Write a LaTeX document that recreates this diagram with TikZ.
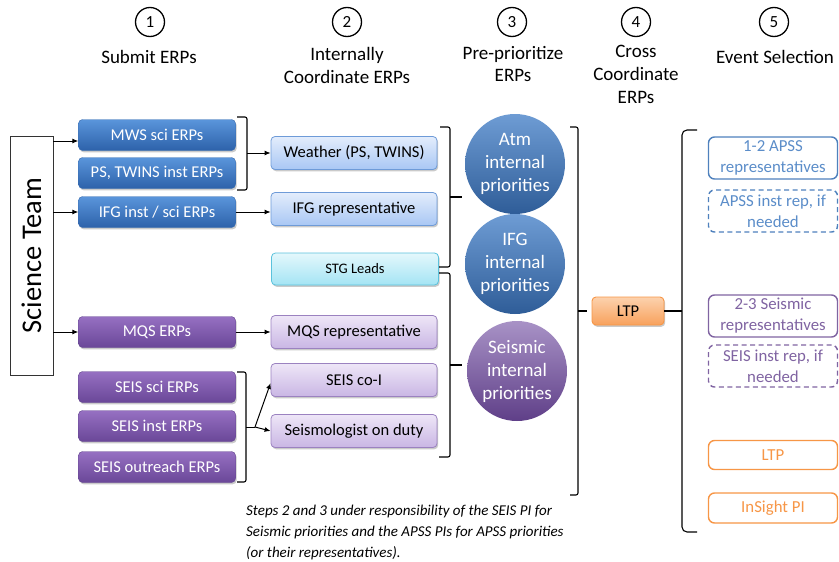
\documentclass[tikz,border=0pt]{standalone}
\usepackage{fontspec}
\setmainfont{Carlito}
\usepackage{graphicx}
\usetikzlibrary{shadows,arrows.meta}
\newcommand{\fsz}[2]{\fontsize{#1pt}{#2pt}\selectfont}
\definecolor{bluetop}{HTML}{5A95DB}
\definecolor{bluebot}{HTML}{2D62AA}
\definecolor{blueedge}{HTML}{3A6DB0}
\definecolor{purtop}{HTML}{9670C2}
\definecolor{purbot}{HTML}{6A4798}
\definecolor{puredge}{HTML}{64468F}
\definecolor{lbtop}{HTML}{E3EDFC}
\definecolor{lbbot}{HTML}{A9C7F4}
\definecolor{lbedge}{HTML}{6E9BD8}
\definecolor{lptop}{HTML}{EEE6F7}
\definecolor{lpbot}{HTML}{C9B6E4}
\definecolor{lpedge}{HTML}{9B82C0}
\definecolor{cytop}{HTML}{E4F8FC}
\definecolor{cybot}{HTML}{A4E4F4}
\definecolor{cyedge}{HTML}{5BC2DC}
\definecolor{ortop}{HTML}{FCD2AE}
\definecolor{orbot}{HTML}{F8A15C}
\definecolor{oredge}{HTML}{F79646}
\definecolor{apssblue}{HTML}{4F81BD}
\definecolor{apsstext}{HTML}{5B8DC9}
\definecolor{seispur}{HTML}{8064A2}
\definecolor{cbtop}{HTML}{6E9CD4}
\definecolor{cbbot}{HTML}{2F5D98}
\definecolor{cptop}{HTML}{A892C6}
\definecolor{cpbot}{HTML}{5F3F88}
\begin{document}
\begin{tikzpicture}[x=1pt,y=-1pt,
  every node/.style={inner sep=0pt},
  shad/.style={drop shadow={shadow xshift=1.2pt, shadow yshift=-1.8pt, opacity=0.35, fill=black!60}},
  darkb/.style={shad, rounded corners=4pt, minimum width=157pt, minimum height=31pt, text=white, font=\fsz{16.5}{20}},
  bluebox/.style={darkb, draw=blueedge, top color=bluetop, bottom color=bluebot},
  purbox/.style={darkb, draw=puredge, top color=purtop, bottom color=purbot},
  lightb/.style={shad, rounded corners=4pt, minimum width=166pt, minimum height=33pt, text=black, font=\fsz{16.5}{20}, line width=0.8pt},
  lbbox/.style={lightb, draw=lbedge, top color=lbtop, bottom color=lbbot},
  lpbox/.style={lightb, draw=lpedge, top color=lptop, bottom color=lpbot},
  cybox/.style={lightb, draw=cyedge, top color=cytop, bottom color=cybot, minimum width=167pt, minimum height=32pt, font=\fsz{14.5}{17}},
  prio/.style={circle, minimum size=100pt, text=white, font=\fsz{19}{23}, align=center},
  outb/.style={rounded corners=6pt, line width=1.4pt, fill=white, minimum width=129pt, minimum height=42pt, align=center, font=\fsz{16.8}{21}},
  dsh/.style={dash pattern=on 5pt off 3.5pt},
  num/.style={circle, draw, line width=1.3pt, minimum size=29pt, font=\fsz{17}{20}},
  ttl/.style={font=\fsz{19}{23}, align=center},
  arr/.style={-{Latex[length=6pt,width=5pt]}, line width=1pt},
  brk/.style={line width=1.1pt, rounded corners=2pt}
]
\useasboundingbox (0,0) rectangle (839,562);

% step headers
\node[num] (c1) at (150,22) {1};
\node[num] (c2) at (347,22) {2};
\node[num] (c3) at (512,22) {3};
\node[num] (c4) at (636,22) {4};
\node[num] (c5) at (774,22) {5};
\node[ttl] (t1) at (149,57) {Submit ERPs};
\node[ttl] (t2) at (347,65) {Internally\\Coordinate ERPs};
\node[ttl] (t3) at (513,64) {Pre-prioritize\\ERPs};
\node[ttl] (t4) at (636,74) {Cross\\Coordinate\\ERPs};
\node[ttl] (t5) at (775,57) {Event Selection};

% science team
\node[draw=black!80, line width=0.9pt, minimum width=43pt, minimum height=239pt] (st) at (31.5,255.5) {\rotatebox{90}{\fsz{28.5}{30}Science Team}};

% column 1
\node[bluebox] (mws) at (157,135) {MWS sci ERPs};
\node[bluebox] (ps) at (157,173) {PS, TWINS inst ERPs};
\node[bluebox] (ifg) at (157,212) {IFG inst / sci ERPs};
\node[purbox] (mqs) at (157,332) {MQS ERPs};
\node[purbox] (seissci) at (157,387) {SEIS sci ERPs};
\node[purbox] (seisinst) at (157,426) {SEIS inst ERPs};
\node[purbox] (seisout) at (157,467) {SEIS outreach ERPs};

\draw[arr] (st.east |- mws.west) ++(0,6) -- ([yshift=-6pt]mws.west);
\draw[arr] (st.east |- ifg.west) -- (ifg.west);
\draw[arr] (st.east |- mqs.west) -- (mqs.west);

% column 2
\node[lbbox] (weather) at (354,153) {Weather (PS, TWINS)};
\node[lbbox] (ifgrep) at (354,209) {IFG representative};
\node[cybox] (stg) at (355,269) {STG Leads};
\node[lpbox] (mqsrep) at (354,332) {MQS representative};
\node[lpbox] (coi) at (354,380) {SEIS co-I};
\node[lpbox] (duty) at (354,431) {Seismologist on duty};

\draw[brk] (237,117) -- (247,117) -- (247,190) -- (237,190);
\coordinate (b1) at (247,153);
\draw[arr] (b1) -- (weather.west);
\draw[arr] (ifg.east) -- (ifgrep.west |- ifg.east);
\draw[arr] (mqs.east) -- (mqsrep.west);

\draw[brk] (237,372) -- (246,372) -- (246,482) -- (237,482);
\coordinate (b2a) at (246,427);
\coordinate (b2) at (255,427);
\draw[line width=1pt] (b2a) -- (b2);
\draw[arr] (b2) -- ([yshift=-3pt]coi.west);
\draw[arr] (b2) -- (duty.west);

% column 3
\draw[brk] (440,127) -- (450,127) -- (450,267) -- (439,267);
\draw[line width=1.1pt] (450,197) -- (462,197);
\draw[brk] (439,273) -- (450,273) -- (450,457) -- (439,457);
\draw[line width=1.1pt] (450,365) -- (462,365);

\node[prio, top color=cbtop, bottom color=cbbot] (atm) at (515,164) {Atm\\internal\\priorities};
\node[prio, top color=cbtop, bottom color=cbbot] (ifgp) at (515,264) {IFG\\internal\\priorities};
\node[prio, top color=cptop, bottom color=cpbot] (seisp) at (517,371) {Seismic\\internal\\priorities};

% column 4
\draw[brk] (570,127) -- (578,127) -- (578,495) -- (570,495);
\draw[line width=1.1pt] (578,311) -- (587,311);
\node[shad, rounded corners=4pt, draw=oredge, line width=0.9pt, top color=ortop, bottom color=orbot, minimum width=72pt, minimum height=28pt, font=\fsz{16.5}{20}] (ltp) at (628,311) {LTP};

% column 5
\draw[line width=1.1pt, rounded corners=5pt] (697,130) -- (682,130) -- (682,532) -- (697,532);
\coordinate (d) at (682,311);
\draw[line width=1.1pt] (ltp.east) -- (d);

\node[outb, draw=apssblue, text=apsstext] (apss) at (773,158) {1-2 APSS\\representatives};
\node[outb, dsh, draw=apssblue, text=apsstext] (apssinst) at (773,211) {APSS inst rep, if\\needed};
\node[outb, draw=seispur, text=seispur] (seisrep) at (773,316) {2-3 Seismic\\representatives};
\node[outb, dsh, draw=seispur, text=seispur] (seisrepi) at (773,366) {SEIS inst rep, if\\needed};
\node[outb, draw=oredge, text=oredge, minimum height=29pt] (ltp2) at (773,455) {LTP};
\node[outb, draw=oredge, text=oredge, minimum height=30pt] (pi) at (773,508) {InSight PI};

% footnote
\node[anchor=west, align=left, font=\fsz{15}{21}\itshape] (note) at (246,532) {Steps 2 and 3 under responsibility of the SEIS PI for\\Seismic priorities and the APSS PIs for APSS priorities\\(or their representatives).};
\end{tikzpicture}
\end{document}
